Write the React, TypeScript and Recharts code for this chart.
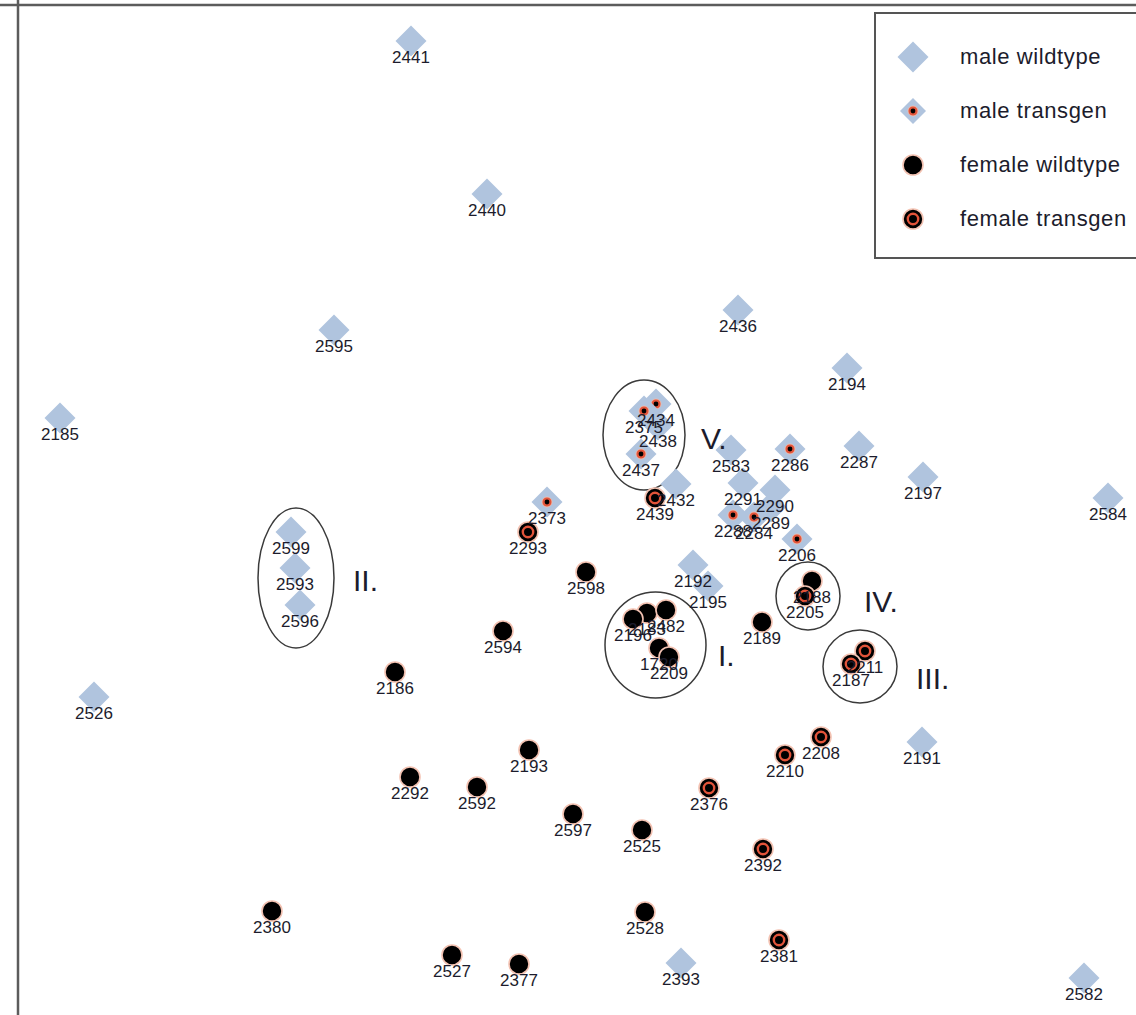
import React from 'react';
import { ScatterChart, Scatter, XAxis, YAxis, ReferenceLine, ReferenceArea } from 'recharts';

// ordination coordinates (x to the right, y downwards)
const maleWildtype = [
  { id: '2441', x: 411, y: 41 },
  { id: '2440', x: 487, y: 194 },
  { id: '2595', x: 334, y: 330 },
  { id: '2185', x: 60, y: 418 },
  { id: '2436', x: 738, y: 310 },
  { id: '2194', x: 847, y: 368 },
  { id: '2438', x: 658, y: 425 },
  { id: '2583', x: 731, y: 450 },
  { id: '2287', x: 859, y: 446 },
  { id: '2197', x: 923, y: 477 },
  { id: '2584', x: 1108, y: 498 },
  { id: '2432', x: 676, y: 484 },
  { id: '2291', x: 743, y: 483 },
  { id: '2290', x: 775, y: 490 },
  { id: '2289', x: 771, y: 507 },
  { id: '2599', x: 291, y: 532 },
  { id: '2593', x: 295, y: 568 },
  { id: '2596', x: 300, y: 605 },
  { id: '2192', x: 693, y: 565 },
  { id: '2195', x: 708, y: 586 },
  { id: '2526', x: 94, y: 697 },
  { id: '2191', x: 922, y: 742 },
  { id: '2393', x: 681, y: 963 },
  { id: '2582', x: 1084, y: 978 },
];

const maleTransgen = [
  { id: '2434', x: 656, y: 404 },
  { id: '2375', x: 644, y: 411 },
  { id: '2437', x: 641, y: 454 },
  { id: '2373', x: 547, y: 502 },
  { id: '2286', x: 790, y: 449 },
  { id: '2288', x: 733, y: 515 },
  { id: '2284', x: 754, y: 517 },
  { id: '2206', x: 797, y: 539 },
];

const femaleWildtype = [
  { id: '2598', x: 586, y: 572 },
  { id: '2188', x: 812, y: 581 },
  { id: '2594', x: 503, y: 631 },
  { id: '2186', x: 395, y: 672 },
  { id: '2189', x: 762, y: 622 },
  { id: '2183', x: 647, y: 613 },
  { id: '2482', x: 666, y: 610 },
  { id: '2196', x: 633, y: 619 },
  { id: '1720', x: 659, y: 648 },
  { id: '2209', x: 669, y: 657 },
  { id: '2193', x: 529, y: 750 },
  { id: '2292', x: 410, y: 777 },
  { id: '2592', x: 477, y: 787 },
  { id: '2597', x: 573, y: 814 },
  { id: '2525', x: 642, y: 830 },
  { id: '2380', x: 272, y: 911 },
  { id: '2528', x: 645, y: 912 },
  { id: '2527', x: 452, y: 955 },
  { id: '2377', x: 519, y: 964 },
];

const femaleTransgen = [
  { id: '2439', x: 655, y: 498 },
  { id: '2293', x: 528, y: 532 },
  { id: '2205', x: 805, y: 596 },
  { id: '2211', x: 865, y: 651 },
  { id: '2187', x: 851, y: 664 },
  { id: '2208', x: 821, y: 737 },
  { id: '2210', x: 785, y: 755 },
  { id: '2376', x: 709, y: 788 },
  { id: '2392', x: 763, y: 849 },
  { id: '2381', x: 779, y: 940 },
];

// clusters: bounding box of each ellipse, and where its numeral sits
const clusters = [
  { name: 'I.', x1: 605, x2: 706, y1: 592, y2: 698 },
  { name: 'II.', x1: 258, x2: 334, y1: 508, y2: 648 },
  { name: 'III.', x1: 823, x2: 897, y1: 630, y2: 703 },
  { name: 'IV.', x1: 776, x2: 840, y1: 562, y2: 630 },
  { name: 'V.', x1: 603, x2: 685, y1: 380, y2: 490 },
];
const clusterNames = [
  { name: 'I.', x: 718, y: 655 },
  { name: 'II.', x: 353, y: 580 },
  { name: 'III.', x: 916, y: 678 },
  { name: 'IV.', x: 864, y: 601 },
  { name: 'V.', x: 701, y: 438 },
];

const BLUE = '#b0c4de';
const RED = '#e2543a';
const HALO = '#f3c2b2';
const INK = '#1c1c2c';
const FONT = 'Liberation Sans, Arial, sans-serif';

const Diamond = ({ cx, cy, s = 15.5 }: any) => (
  <polygon points={`${cx},${cy - s} ${cx + s},${cy} ${cx},${cy + s} ${cx - s},${cy}`} fill={BLUE} />
);
const RedDot = ({ cx, cy }: any) => (
  <g>
    <circle cx={cx} cy={cy} r={5} fill={RED} stroke={HALO} strokeWidth={0.8} />
    <circle cx={cx} cy={cy} r={2.4} fill="#000" />
  </g>
);
const BlackDot = ({ cx, cy }: any) => <circle cx={cx} cy={cy} r={10} fill="#000" stroke={HALO} strokeWidth={1.6} />;
const Ring = ({ cx, cy }: any) => (
  <g>
    <BlackDot cx={cx} cy={cy} />
    <circle cx={cx} cy={cy} r={5.2} fill="none" stroke={RED} strokeWidth={2.4} />
  </g>
);

const markerFor = (kind: string) => (props: any) => {
  const { cx, cy } = props;
  if (kind === 'mw') return <Diamond cx={cx} cy={cy} />;
  if (kind === 'mt')
    return (
      <g>
        <Diamond cx={cx} cy={cy} />
        <RedDot cx={cx} cy={cy} />
      </g>
    );
  if (kind === 'fw') return <BlackDot cx={cx} cy={cy} />;
  return <Ring cx={cx} cy={cy} />;
};

// labels go on top of every marker, as in the original plot
const allPoints = [...maleWildtype, ...maleTransgen, ...femaleWildtype, ...femaleTransgen];
const labelShape = (p: any) => (
  <text x={p.cx} y={p.cy + 22} textAnchor="middle" fontSize={17} fill={INK} fontFamily={FONT}>
    {p.payload.id}
  </text>
);

const legendItems = [
  { kind: 'mw', label: 'male wildtype' },
  { kind: 'mt', label: 'male transgen' },
  { kind: 'fw', label: 'female wildtype' },
  { kind: 'ft', label: 'female transgen' },
];

const LegendBox = () => (
  <div
    style={{
      position: 'absolute',
      left: 874,
      top: 12,
      width: 270,
      height: 247,
      border: '2px solid #555',
      background: '#fff',
      boxSizing: 'border-box',
      paddingTop: 16,
      fontFamily: FONT,
    }}
  >
    {legendItems.map((it) => (
      <div key={it.kind} style={{ display: 'flex', alignItems: 'center', height: 54 }}>
        <svg width={84} height={40} style={{ flex: 'none' }}>
          {it.kind === 'mw' && <Diamond cx={37} cy={20} />}
          {it.kind === 'mt' && (
            <g>
              <Diamond cx={37} cy={20} s={13} />
              <RedDot cx={37} cy={20} />
            </g>
          )}
          {it.kind === 'fw' && <BlackDot cx={37} cy={20} />}
          {it.kind === 'ft' && <Ring cx={37} cy={20} />}
        </svg>
        <span style={{ fontSize: 22, color: INK, whiteSpace: 'nowrap', letterSpacing: 0.6 }}>{it.label}</span>
      </div>
    ))}
  </div>
);

export default function App() {
  return (
    <div style={{ position: 'absolute', left: 0, top: 0, width: 1136, height: 1015, background: '#fff', overflow: 'hidden' }}>
      <ScatterChart width={1136} height={1015} margin={{ top: 0, right: 0, bottom: 0, left: 0 }}>
        <XAxis dataKey="x" type="number" domain={[0, 1136]} hide allowDataOverflow />
        <YAxis dataKey="y" type="number" domain={[0, 1015]} reversed hide allowDataOverflow />
        <ReferenceLine x={18} stroke="#5c5c5c" strokeWidth={2.5} />
        <ReferenceLine y={5} stroke="#5c5c5c" strokeWidth={2.5} />
        {clusters.map((c) => (
          <ReferenceArea
            key={c.name}
            x1={c.x1}
            x2={c.x2}
            y1={c.y1}
            y2={c.y2}
            shape={(p: any) => (
              <ellipse
                cx={p.x + p.width / 2}
                cy={p.y + p.height / 2}
                rx={Math.abs(p.width) / 2}
                ry={Math.abs(p.height) / 2}
                fill="none"
                stroke="#3a3a3a"
                strokeWidth={1.5}
              />
            )}
          />
        ))}
        <Scatter data={maleWildtype} shape={markerFor('mw')} isAnimationActive={false} />
        <Scatter data={maleTransgen} shape={markerFor('mt')} isAnimationActive={false} />
        <Scatter data={femaleWildtype} shape={markerFor('fw')} isAnimationActive={false} />
        <Scatter data={femaleTransgen} shape={markerFor('ft')} isAnimationActive={false} />
        <Scatter data={allPoints} shape={labelShape} isAnimationActive={false} />
        <Scatter
          data={clusterNames}
          isAnimationActive={false}
          shape={(p: any) => (
            <text x={p.cx} y={p.cy + 11} fontSize={30} fill={INK} fontFamily={FONT}>
              {p.payload.name}
            </text>
          )}
        />
      </ScatterChart>
      <LegendBox />
    </div>
  );
}
